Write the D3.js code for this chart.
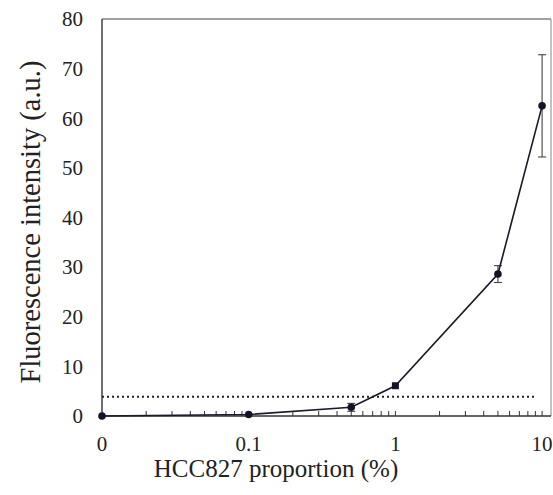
<!DOCTYPE html>
<html>
<head>
<meta charset="utf-8">
<script src="https://cdn.jsdelivr.net/npm/d3@7"></script>
<style>
  body { margin: 0; background: #fff; }
  svg { display: block; }
</style>
</head>
<body>
<div id="chart"></div>
<script>
const proportions = [0, 0.1, 0.5, 1, 5, 10];
const intensity = [0, 0.3, 1.75, 6.1, 28.6, 62.5];
const errors = [0, 0, 0.8, 0, 1.7, 10.3];
const markerShapes = ["circle", "circle", "circle", "square", "circle", "circle"];
const xTickValues = [0, 0.1, 1, 10];
const xTickLabels = ["0", "0.1", "1", "10"];
const yTickValues = [0, 10, 20, 30, 40, 50, 60, 70, 80];
const thresholdValue = 3.9;
const thresholdRange = [0, 9];

const FONT = "Liberation Serif";
const width = 553;
const height = 495;
const margin = { top: 19, right: 2, bottom: 79, left: 102 };
const innerWidth = width - margin.left - margin.right;
const innerHeight = height - margin.top - margin.bottom;

const svg = d3
  .select("#chart")
  .append("svg")
  .attr("width", width)
  .attr("height", height)
  .attr("font-family", FONT);

const chart = svg
  .append("g")
  .attr("transform", `translate(${margin.left},${margin.top})`);

// log axis, with 0 drawn one decade below 0.1
const xScale = d3.scaleLog().domain([0.01, 11.5]).range([0, innerWidth]);
const xPos = (v) => xScale(v === 0 ? 0.01 : v);
const yScale = d3.scaleLinear().domain([0, 80]).range([innerHeight, 0]);

// minor ticks pointing up from the bottom axis
const minorTicks = xScale.ticks().filter((t) => t > 0.0100001);
chart
  .append("g")
  .selectAll("line")
  .data(minorTicks)
  .join("line")
  .attr("x1", (d) => xScale(d))
  .attr("x2", (d) => xScale(d))
  .attr("y1", innerHeight)
  .attr("y2", innerHeight - 5)
  .attr("stroke", "#333")
  .attr("stroke-width", 1);

// frame
chart.append("line").attr("x1", 0).attr("x2", innerWidth).attr("y1", 0).attr("y2", 0)
  .attr("stroke", "#444").attr("stroke-width", 1.2);
chart.append("line").attr("x1", innerWidth).attr("x2", innerWidth).attr("y1", 0).attr("y2", innerHeight)
  .attr("stroke", "#999").attr("stroke-width", 1.2);
chart.append("line").attr("x1", 0).attr("x2", 0).attr("y1", 0).attr("y2", innerHeight)
  .attr("stroke", "#333").attr("stroke-width", 1.4);
chart.append("line").attr("x1", 0).attr("x2", innerWidth).attr("y1", innerHeight).attr("y2", innerHeight)
  .attr("stroke", "#333").attr("stroke-width", 1.4);

// tick labels
chart
  .append("g")
  .selectAll("text")
  .data(yTickValues)
  .join("text")
  .attr("x", -19)
  .attr("y", (d) => yScale(d))
  .attr("dy", "0.35em")
  .attr("text-anchor", "end")
  .attr("font-size", 21)
  .attr("fill", "#222")
  .text((d) => d);

chart
  .append("g")
  .selectAll("text")
  .data(xTickValues)
  .join("text")
  .attr("x", (d) => xPos(d))
  .attr("y", innerHeight + 35)
  .attr("text-anchor", "middle")
  .attr("font-size", 21)
  .attr("fill", "#222")
  .text((d, i) => xTickLabels[i]);

// axis titles
svg
  .append("text")
  .attr("x", 276)
  .attr("y", 477)
  .attr("text-anchor", "middle")
  .attr("font-size", 25)
  .attr("fill", "#222")
  .text("HCC827 proportion (%)");

svg
  .append("text")
  .attr("transform", "rotate(-90)")
  .attr("x", -222)
  .attr("y", 40)
  .attr("text-anchor", "middle")
  .attr("font-size", 28.5)
  .attr("fill", "#222")
  .text("Fluorescence intensity (a.u.)");

// threshold
chart
  .append("line")
  .attr("x1", xPos(thresholdRange[0]))
  .attr("x2", xPos(thresholdRange[1]))
  .attr("y1", yScale(thresholdValue))
  .attr("y2", yScale(thresholdValue))
  .attr("stroke", "#222")
  .attr("stroke-width", 2)
  .attr("stroke-dasharray", "2,3");

const points = proportions.map((x, i) => ({
  x,
  y: intensity[i],
  err: errors[i],
  shape: markerShapes[i],
}));

// error bars
const errGroup = chart.append("g").attr("stroke", "#444").attr("stroke-width", 1.1);
points
  .filter((d) => d.err > 0)
  .forEach((d) => {
    const cx = xPos(d.x);
    errGroup.append("line").attr("x1", cx).attr("x2", cx)
      .attr("y1", yScale(d.y - d.err)).attr("y2", yScale(d.y + d.err));
    [d.y - d.err, d.y + d.err].forEach((v) => {
      errGroup.append("line").attr("x1", cx - 4).attr("x2", cx + 4)
        .attr("y1", yScale(v)).attr("y2", yScale(v));
    });
  });

// line
const line = d3.line().x((d) => xPos(d.x)).y((d) => yScale(d.y));
chart
  .append("path")
  .datum(points)
  .attr("fill", "none")
  .attr("stroke", "#1a1a2a")
  .attr("stroke-width", 1.6)
  .attr("d", line);

// markers
points.forEach((d) => {
  if (d.shape === "square") {
    chart.append("rect")
      .attr("x", xPos(d.x) - 3.5).attr("y", yScale(d.y) - 3.5)
      .attr("width", 7).attr("height", 7)
      .attr("fill", "#141428");
  } else {
    chart.append("circle")
      .attr("cx", xPos(d.x)).attr("cy", yScale(d.y))
      .attr("r", 3.8)
      .attr("fill", "#141428");
  }
});
</script>
</body>
</html>
